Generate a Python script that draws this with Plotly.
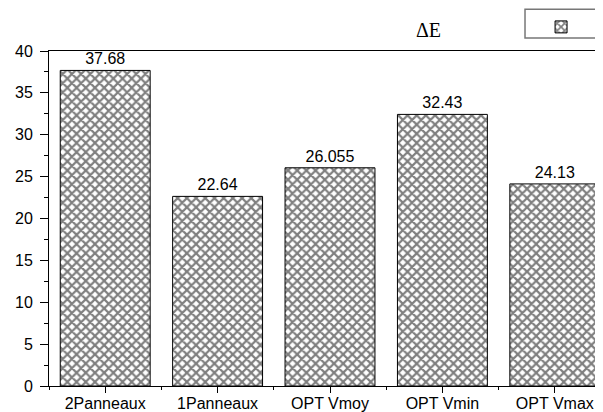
import plotly.graph_objects as go

categories = ["2Panneaux", "1Panneaux", "OPT Vmoy", "OPT Vmin", "OPT Vmax"]
values = [37.68, 22.64, 26.055, 32.43, 24.13]
value_labels = ["37.68", "22.64", "26.055", "32.43", "24.13"]
y_ticks = [0, 5, 10, 15, 20, 25, 30, 35, 40]
series_name = "ΔE"

x_pos = list(range(len(categories)))
boundaries = [i - 0.5 for i in range(len(categories) + 1)]

FONT = "Arial, Liberation Sans, sans-serif"

fig = go.Figure()
fig.add_trace(go.Bar(
    x=x_pos,
    y=values,
    width=0.8,
    name=" ",
    text=value_labels,
    textposition="outside",
    textfont=dict(family=FONT, size=16, color="black"),
    cliponaxis=False,
    marker=dict(
        color="white",
        line=dict(color="black", width=1),
        pattern=dict(shape="x", fgcolor="black", bgcolor="white", size=6.5, solidity=0.55),
    ),
    showlegend=True,
))

fig.update_layout(
    width=603,
    height=412,
    margin=dict(l=41, r=0, t=43, b=34, autoexpand=False),
    paper_bgcolor="white",
    plot_bgcolor="white",
    font=dict(family=FONT, size=16, color="black"),
    bargap=0.2,
    legend=dict(
        orientation="h",
        xref="container", yref="container",
        x=0.884, xanchor="left",
        y=0.992, yanchor="top",
        borderwidth=0,
        bgcolor="rgba(0,0,0,0)",
        entrywidth=60,
        font=dict(size=14),
    ),
    shapes=[dict(
        type="rect",
        xref="paper", yref="paper",
        x0=0.847, x1=1.12, y0=1.039, y1=1.125,
        line=dict(color="#777777", width=1.5),
        fillcolor="rgba(0,0,0,0)",
        layer="below",
    )],
    annotations=[dict(
        text=series_name,
        xref="paper", yref="paper",
        x=0.701, y=1.10,
        showarrow=False,
        font=dict(family="Times New Roman, Liberation Serif, serif", size=20, color="black"),
    )],
)

fig.update_xaxes(
    range=[-0.5, 4.5],
    automargin=False,
    tickmode="array",
    tickvals=x_pos,
    ticktext=categories,
    ticks="outside",
    ticklen=6,
    tickwidth=1,
    tickcolor="black",
    ticklabelstandoff=-3,
    minor=dict(tickmode="array", tickvals=boundaries, ticks="outside", ticklen=3, tickcolor="black", tickwidth=1),
    showline=True,
    linecolor="black",
    linewidth=1,
    mirror=True,
    showgrid=False,
    zeroline=False,
    tickfont=dict(family=FONT, size=16, color="black"),
)

fig.update_yaxes(
    range=[0, 40],
    automargin=False,
    tickmode="array",
    tickvals=y_ticks,
    ticks="outside",
    ticklen=8,
    tickwidth=1,
    tickcolor="black",
    ticklabelstandoff=4,
    minor=dict(dtick=2.5, tick0=0, ticks="outside", ticklen=4, tickcolor="black", tickwidth=1, showgrid=False),
    showline=True,
    linecolor="black",
    linewidth=1,
    showgrid=False,
    zeroline=False,
    tickfont=dict(family=FONT, size=16, color="black"),
)

fig.write_html("out.html")
